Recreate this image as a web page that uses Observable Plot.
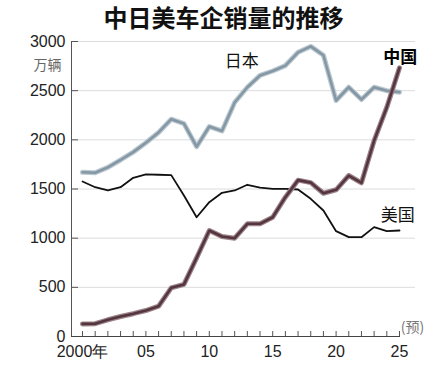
<!DOCTYPE html>
<html>
<head>
<meta charset="utf-8">
<script src="https://cdn.jsdelivr.net/npm/d3@7"></script>
<script src="https://cdn.jsdelivr.net/npm/@observablehq/plot@0.6"></script>
<style>
  html, body { margin: 0; padding: 0; background: #fff; }
  #wrap { width: 447px; height: 370px; position: relative; overflow: hidden; }
  #title { height: 28px; line-height: 24px; padding-top: 5px; box-sizing: border-box;
           text-align: center; font-family: "Noto Sans CJK SC", sans-serif; font-weight: bold;
           font-size: 24px; color: #111; white-space: nowrap; overflow: visible; position: relative; z-index: 1; }
  svg { display: block; }
</style>
</head>
<body>
<div id="wrap">
  <div id="title">中日美车企销量的推移</div>
  <div id="chart"></div>
</div>
<script>
const years = [2000,2001,2002,2003,2004,2005,2006,2007,2008,2009,2010,2011,2012,2013,2014,2015,2016,2017,2018,2019,2020,2021,2022,2023,2024,2025];
const japan = [1670,1665,1720,1795,1875,1970,2075,2210,2165,1930,2135,2090,2380,2535,2655,2700,2755,2890,2950,2860,2400,2535,2410,2535,2500,2485];
const usa   = [1576,1518,1485,1518,1614,1648,1645,1641,1434,1213,1366,1461,1485,1543,1515,1502,1502,1495,1400,1281,1071,1010,1010,1112,1071,1078];
const china = [128,130,170,203,232,264,308,495,530,800,1078,1017,1000,1146,1146,1213,1417,1590,1565,1457,1492,1637,1563,1993,2332,2733];
const yTicks = [0,500,1000,1500,2000,2500,3000];
const xLabelYears = [2000,2005,2010,2015,2020,2025];
const xLabels = ["2000年","05","10","15","20","25"];
const seriesLabels = [
  {name: "日本", year: 2012.55, value: 2800, bold: false},
  {name: "中国", year: 2025.05, value: 2840, bold: true},
  {name: "美国", year: 2024.86, value: 1231, bold: false}
];

const toRows = (vals) => years.map((y, i) => ({year: y, value: vals[i]}));
const jp = toRows(japan), us = toRows(usa), cn = toRows(china);
const labelMap = new Map(xLabelYears.map((y, i) => [y, xLabels[i]]));
const numFont = "'Liberation Sans', Arial, sans-serif";
const cjk = "'Noto Sans CJK SC', sans-serif";

const chart = Plot.plot({
  width: 447,
  height: 342,
  marginLeft: 71,
  marginRight: 32,
  marginTop: 13,
  marginBottom: 34,
  insetLeft: 11,
  insetRight: 16,
  style: {fontFamily: numFont, fontSize: "16px", color: "#222", background: "transparent", overflow: "visible"},
  x: {domain: [2000, 2025], axis: null},
  y: {domain: [0, 3000], axis: null},
  marks: [
    Plot.gridY(yTicks.filter(d => d > 0), {stroke: "#dcdcdc", strokeOpacity: 1, strokeWidth: 1}),
    Plot.axisY(yTicks, {anchor: "left", tickSize: -7, tickPadding: 13, stroke: "#555", strokeWidth: 1,
      tickFormat: d => String(d), fontSize: 16, fill: "#222", fontFamily: numFont, label: null}),
    Plot.frame({anchor: "left", stroke: "#555", strokeWidth: 1}),
    Plot.ruleY([0], {stroke: "#444", strokeWidth: 1.2, insetRight: 15}),
    Plot.axisX(years, {anchor: "bottom", tickSize: -5, tickFormat: () => "", stroke: "#555", strokeWidth: 1, label: null}),
    Plot.axisX(xLabelYears, {anchor: "bottom", tickSize: 0, tickPadding: 9, tickFormat: d => labelMap.get(d),
      fontSize: 16, fill: "#222", fontFamily: numFont, label: null}),
    // Japan
    Plot.line(jp, {x: "year", y: "value", stroke: "#bcc8d0", strokeWidth: 5, strokeLinejoin: "round"}),
    Plot.line(jp, {x: "year", y: "value", stroke: "#8497a5", strokeWidth: 2.6, strokeLinejoin: "round"}),
    // USA
    Plot.line(us, {x: "year", y: "value", stroke: "#111", strokeWidth: 1.8, strokeLinejoin: "round"}),
    // China
    Plot.line(cn, {x: "year", y: "value", stroke: "#9c848c", strokeWidth: 5, strokeLinejoin: "round"}),
    Plot.line(cn, {x: "year", y: "value", stroke: "#55363f", strokeWidth: 2.6, strokeLinejoin: "round"}),
    // series labels
    Plot.text(seriesLabels.filter(d => !d.bold), {x: "year", y: "value", text: "name", fontSize: 17, fontFamily: cjk,
      fontWeight: "normal", fill: "#111", textAnchor: "middle"}),
    Plot.text(seriesLabels.filter(d => d.bold), {x: "year", y: "value", text: "name", fontSize: 17, fontFamily: cjk,
      fontWeight: "bold", fill: "#000", textAnchor: "middle"}),
    Plot.text(["(预)"], {x: 2025.1, y: 92, text: d => d, textAnchor: "start", fontSize: 14, fontFamily: cjk, fill: "#777"}),
    Plot.text(["万辆"], {frameAnchor: "top-left", dx: -24, dy: 19, text: d => d, textAnchor: "middle", fontSize: 14, fontFamily: cjk, fill: "#666"})
  ]
});
document.getElementById("chart").appendChild(chart);
</script>
</body>
</html>
